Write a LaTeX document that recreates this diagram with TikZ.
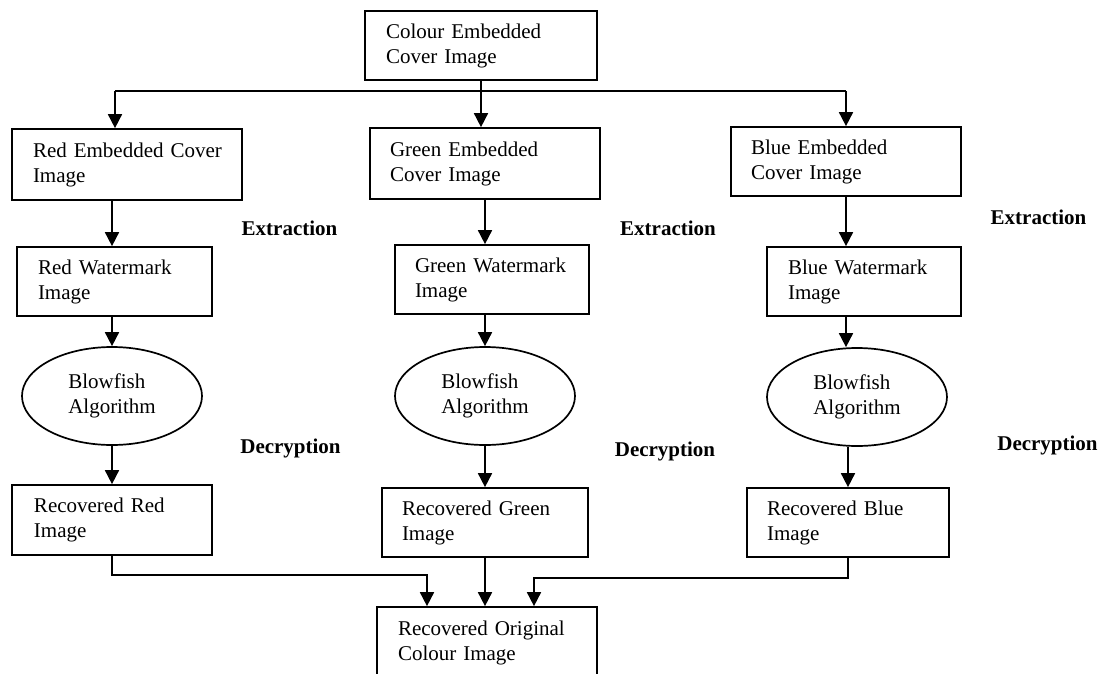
\documentclass[tikz,border=0pt]{standalone}
\usepackage{fontspec}
\setmainfont{Liberation Serif}
\usetikzlibrary{arrows.meta,shapes.geometric}
\begin{document}
\begin{tikzpicture}[x=1pt,y=-1pt,
  every node/.style={font=\fontsize{21}{25}\selectfont},
  box/.style={draw, line width=1.7pt, rectangle, inner xsep=0pt, inner ysep=2pt, align=left},
  oval/.style={draw, line width=1.7pt, ellipse, minimum width=180pt, minimum height=98pt, inner sep=0pt, align=left},
  lbl/.style={font=\fontsize{21}{25}\selectfont\bfseries, inner sep=0pt},
  arr/.style={line width=1.7pt, -{Triangle[length=14pt,width=14pt]}},
  ln/.style={line width=1.7pt}]
\clip (0,0) rectangle (1098,673);
\fill[white] (0,0) rectangle (1098,673);
% top
\node[box, minimum width=232pt, minimum height=69pt, text width=190pt] (top) at (481,45.5) {\mbox{Colour Embedded}\\\mbox{Cover Image}};
% embedded boxes
\node[box, minimum width=230pt, minimum height=71pt, text width=188pt] (re) at (127,164.5) {\mbox{Red Embedded Cover}\\\mbox{Image}};
\node[box, minimum width=230pt, minimum height=71pt, text width=190pt] (ge) at (485,163.5) {\mbox{Green Embedded}\\\mbox{Cover Image}};
\node[box, minimum width=230pt, minimum height=69pt, text width=190pt] (be) at (846,161.5) {\mbox{Blue Embedded}\\\mbox{Cover Image}};
% watermark boxes
\node[box, minimum width=195pt, minimum height=69pt, text width=153pt] (rw) at (114.5,281.5) {\mbox{Red Watermark}\\\mbox{Image}};
\node[box, minimum width=194pt, minimum height=69pt, text width=154pt] (gw) at (492,279.5) {\mbox{Green Watermark}\\\mbox{Image}};
\node[box, minimum width=194pt, minimum height=69pt, text width=152pt] (bw) at (864,281.5) {\mbox{Blue Watermark}\\\mbox{Image}};
% ellipses
\node[oval] (rel) at (112,396) {Blowfish\\Algorithm};
\node[oval] (gel) at (485,396) {Blowfish\\Algorithm};
\node[oval] (bel) at (857,397) {Blowfish\\Algorithm};
% recovered boxes
\node[box, minimum width=200pt, minimum height=70pt, text width=156pt] (rr) at (112,520) {\mbox{Recovered Red}\\\mbox{Image}};
\node[box, minimum width=206pt, minimum height=69pt, text width=166pt] (gr) at (485,522.5) {\mbox{Recovered Green}\\\mbox{Image}};
\node[box, minimum width=202pt, minimum height=69pt, text width=162pt] (br) at (848,522.5) {\mbox{Recovered Blue}\\\mbox{Image}};
% bottom
\node[box, minimum width=220pt, minimum height=72pt, text width=178pt] (bot) at (487,643) {\mbox{Recovered Original}\\\mbox{Colour Image}};
% labels
\node[lbl] (ex1) at (289.5,228) {Extraction};
\node[lbl] (ex2) at (668,228) {Extraction};
\node[lbl] (ex3) at (1038.5,217) {Extraction};
\node[lbl] (de1) at (290.5,448) {Decryption};
\node[lbl] (de2) at (665,451) {Decryption};
\node[lbl] (de3) at (1047.5,445) {Decryption};
% junction coordinates
\coordinate (jl) at (115,91);
\coordinate (jr) at (846,91);
\coordinate (bl) at (427,575);
\coordinate (br2) at (534,578);
% top distribution
\draw[arr] (top.south) -- (top.south |- ge.north);
\draw[ln] (jl) -- (jr);
\draw[arr] (jl) -- (jl |- re.north);
\draw[arr] (jr) -- (jr |- be.north);
% red column
\draw[arr] (rel.north |- re.south) -- (rel.north |- rw.north);
\draw[arr] (rel.north |- rw.south) -- (rel.north);
\draw[arr] (rel.south) -- (rel.south |- rr.north);
% green column
\draw[arr] (ge.south) -- (ge.south |- gw.north);
\draw[arr] (gel.north |- gw.south) -- (gel.north);
\draw[arr] (gel.south) -- (gel.south |- gr.north);
% blue column
\draw[arr] (be.south) -- (be.south |- bw.north);
\draw[arr] (be.south |- bw.south) -- (be.south |- bel.north);
\draw[arr] (br.north |- bel.south) -- (br.north);
% to bottom
\draw[arr] (rr.south) |- (bl) -- (bl |- bot.north);
\draw[arr] (gr.south) -- (gr.south |- bot.north);
\draw[arr] (br.south) |- (br2) -- (br2 |- bot.north);
\end{tikzpicture}
\end{document}
